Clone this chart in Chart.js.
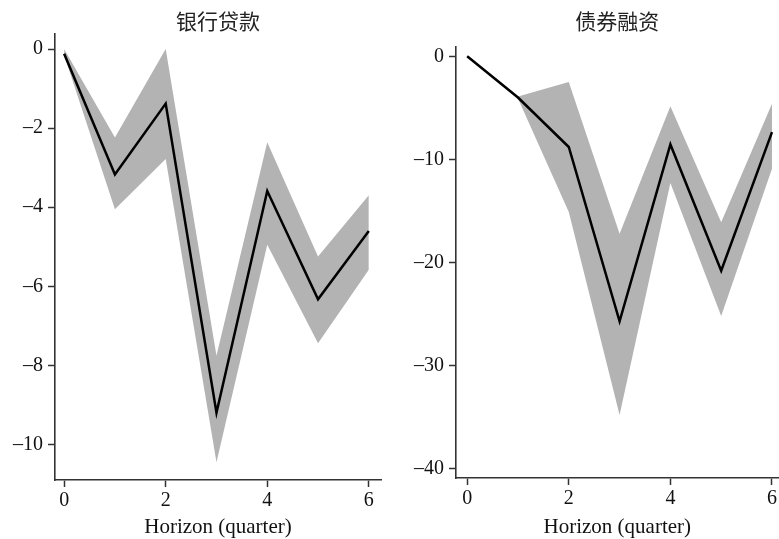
<!DOCTYPE html>
<html>
<head>
<meta charset="utf-8">
<script src="https://cdn.jsdelivr.net/npm/chart.js@4/dist/chart.umd.min.js"></script>
<style>
  html, body { margin: 0; padding: 0; background: #fff; }
  .panel { position: absolute; top: 0; height: 539px; }
</style>
</head>
<body>
<div class="panel" style="left:0;width:390px"><canvas id="loans"></canvas></div>
<div class="panel" style="left:390px;width:389px"><canvas id="bonds"></canvas></div>
<script>
const horizon = [0, 1, 2, 3, 4, 5, 6];

// 银行贷款
const loanIrf   = [-0.12, -3.17, -1.38, -9.2, -3.59, -6.33, -4.6];
const loanUpper = [0, -2.24, 0.0, -7.76, -2.36, -5.25, -3.7];
const loanLower = [-0.15, -4.05, -2.78, -10.45, -4.95, -7.44, -5.58];
const loanTicks = [0, -2, -4, -6, -8, -10];

// 债券融资
const bondIrf   = [0, -4.0, -8.8, -25.7, -8.55, -20.8, -7.35];
const bondUpper = [null, -3.9, -2.5, -17.2, -4.85, -16.1, -4.6];
const bondLower = [null, -4.1, -15.1, -34.8, -12.3, -25.2, -10.9];
const bondTicks = [0, -10, -20, -30, -40];

const xTicks = [0, 2, 4, 6];

const serif = "'Liberation Serif', 'Times New Roman', serif";
const cjk = "'Liberation Serif', 'Noto Sans CJK SC', serif";
const axisColor = "#333";

function pts(ys) {
  return horizon.map((x, i) => ({ x: x, y: ys[i] }));
}

function fmt(v) {
  return v < 0 ? "\u2013" + Math.abs(v) : String(v);
}

function makeChart(id, cfg) {
  return new Chart(document.getElementById(id), {
    type: "line",
    data: {
      datasets: [
        {
          data: pts(cfg.irf),
          borderColor: "#000",
          borderWidth: 2.5,
          pointRadius: 0,
          fill: false,
          order: 0,
        },
        {
          data: pts(cfg.upper),
          borderWidth: 0,
          pointRadius: 0,
          backgroundColor: "#b3b3b3",
          fill: "+1",
          order: 1,
        },
        {
          data: pts(cfg.lower),
          borderWidth: 0,
          pointRadius: 0,
          backgroundColor: "#b3b3b3",
          fill: false,
          order: 2,
        },
      ],
    },
    options: {
      responsive: true,
      maintainAspectRatio: false,
      animation: false,
      layout: { padding: { left: 0, top: 0, right: cfg.padRight, bottom: 0 } },
      plugins: {
        legend: { display: false },
        tooltip: { enabled: false },
        title: {
          display: true,
          text: cfg.title,
          fullSize: false,
          color: "#222",
          font: { family: cjk, size: 21, weight: "normal", lineHeight: 1 },
          padding: { top: 13, bottom: cfg.titleGap },
        },
      },
      scales: {
        x: {
          type: "linear",
          min: cfg.xMin,
          max: cfg.xMax,
          afterBuildTicks: (s) => { s.ticks = xTicks.map((v) => ({ value: v })); },
          afterFit: (s) => { s.height = cfg.xHeight; },
          grid: { display: true, drawOnChartArea: false, tickLength: 7, tickColor: axisColor, tickWidth: 1.5 },
          border: { display: true, color: axisColor, width: 1.6 },
          ticks: { color: "#111", padding: 2, font: { family: serif, size: 20 } },
          title: {
            display: true,
            text: "Horizon (quarter)",
            color: "#111",
            font: { family: serif, size: 21, lineHeight: 1.1 },
            padding: { top: 0, bottom: 0 },
          },
        },
        y: {
          type: "linear",
          min: cfg.yMin,
          max: cfg.yMax,
          afterBuildTicks: (s) => { s.ticks = cfg.yTicks.map((v) => ({ value: v })); },
          afterFit: (s) => { s.width = cfg.yWidth; },
          grid: { display: true, drawOnChartArea: false, tickLength: 7, tickColor: axisColor, tickWidth: 1.5 },
          border: { display: true, color: axisColor, width: 1.6 },
          ticks: { color: "#111", padding: 5, font: { family: serif, size: 20 }, callback: (v) => fmt(v) },
        },
      },
    },
  });
}

makeChart("loans", {
  title: "银行贷款",
  irf: loanIrf, upper: loanUpper, lower: loanLower,
  yTicks: loanTicks, yMin: -10.9, yMax: 0.38,
  xMin: -0.18, xMax: 6.24,
  yWidth: 55, xHeight: 59, padRight: 9, titleGap: 0,
});

makeChart("bonds", {
  title: "债券融资",
  irf: bondIrf, upper: bondUpper, lower: bondLower,
  yTicks: bondTicks, yMin: -40.9, yMax: 0.9,
  xMin: -0.22, xMax: 6.13,
  yWidth: 66, xHeight: 61, padRight: 0, titleGap: 13,
});
</script>
</body>
</html>
